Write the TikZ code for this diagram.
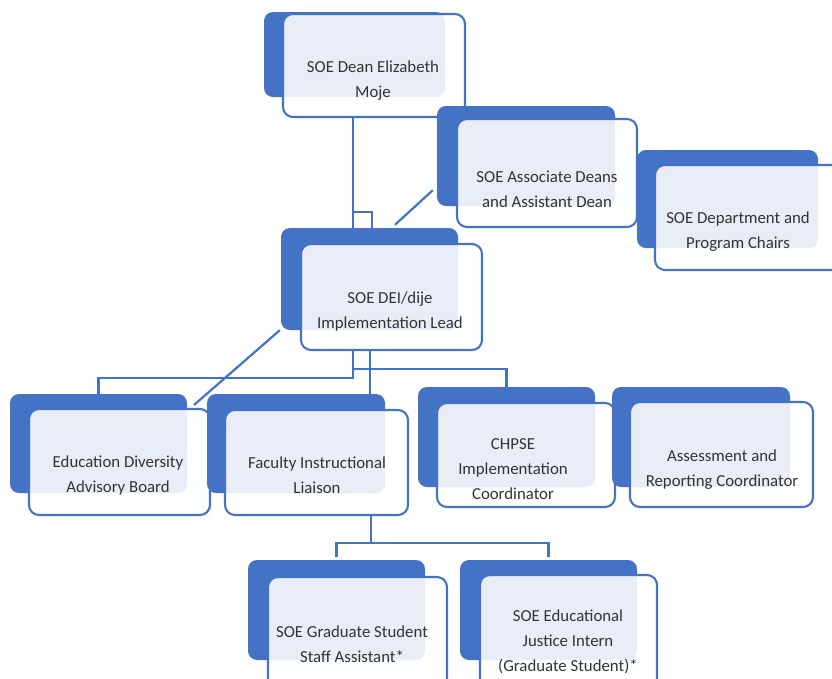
\documentclass[tikz,border=0pt]{standalone}
\usepackage{fontspec}
\setmainfont{Carlito}
\usetikzlibrary{fit,calc}
\definecolor{oblue}{HTML}{4472C4}
\definecolor{txtgray}{HTML}{333333}
\pgfdeclarelayer{bglines}
\pgfdeclarelayer{canvas}
\pgfsetlayers{canvas,bglines,main}
\newcommand\orglabelfont{\fontsize{16.8}{25}\selectfont}
\newcommand\orgunit[9]{%
  \node[backbox, fit={(#2,#3)(#4,#5)}] (#1B) {};
  \node[frontbox, fit={(#6,#7)(#8,#9)}] (#1) {};}
\begin{document}
\begin{tikzpicture}[x=1pt,y=-1pt,
  backbox/.style={fill=oblue, rounded corners=9pt, inner sep=0pt, draw=none},
  frontbox/.style={draw=oblue, line width=2.1pt, fill=white, fill opacity=0.88, rounded corners=10pt, inner sep=0pt},
  lbl/.style={text=txtgray, align=center, font=\orglabelfont, inner sep=0pt},
  conn/.style={draw=oblue, line width=2.2pt}]
\path[use as bounding box] (0,0) rectangle (832,678);
\clip (0,0) rectangle (832,678);
\begin{pgfonlayer}{canvas}
  \fill[white] (0,0) rectangle (832,678);
\end{pgfonlayer}
\orgunit{dean}{264}{12}{445}{97}{283}{14}{465}{117}
\orgunit{assoc}{437}{106}{615}{206}{457}{119}{637}{227}
\orgunit{dept}{637}{150}{818}{248}{655}{165}{845}{270}
\orgunit{lead}{281}{228}{458}{330}{301}{244}{482}{350}
\orgunit{edu}{10}{394}{187}{493}{29}{409}{210}{515}
\orgunit{fac}{207}{394}{385}{493}{225}{410}{408}{515}
\orgunit{chpse}{418}{387}{595}{487}{437}{403}{615}{507}
\orgunit{assess}{612}{387}{790}{487}{630}{402}{813}{507}
\orgunit{grad}{248}{560}{425}{660}{268}{577}{447}{690}
\orgunit{intern}{460}{560}{637}{660}{480}{575}{657}{690}

\node[lbl] (deanT) at (373,80.5) {SOE Dean Elizabeth\\Moje};
\node[lbl] (assocT) at (547,189) {SOE Associate Deans\\and Assistant Dean};
\node[lbl] (deptT) at (738,231.5) {SOE Department and\\Program Chairs};
\node[lbl] (leadT) at (390,311.5) {SOE DEI/dije\\Implementation Lead};
\node[lbl] (eduT) at (118,475.5) {Education Diversity\\Advisory Board};
\node[lbl] (facT) at (317,475.5) {Faculty Instructional\\Liaison};
\node[lbl] (chpseT) at (513,469.5) {CHPSE\\Implementation\\Coordinator};
\node[lbl] (assessT) at (722,470) {Assessment and\\Reporting Coordinator};
\node[lbl] (gradT) at (352,644) {SOE Graduate Student\\Staff Assistant*};
\node[lbl] (internT) at (568,642) {SOE Educational\\Justice Intern\\(Graduate Student)*};

\begin{pgfonlayer}{bglines}
  % Dean to Lead
  \draw[conn] ($(dean.south)+(-21,0)$) -- ($(leadB.north)+(-16.5,0)$);
  \draw[conn] ($(leadB.north)+(-16.5,-16)$) -| ($(leadB.north)+(2.5,0)$);
  % Associate to Lead
  \draw[conn] ($(assocB.south west)+(-4,-16)$) -- ($(leadB.north)+(25.5,-3)$);
  % Lead to bottom row
  \draw[conn] ($(lead.south)+(-38.5,0)$) -- ++(0,27) -| (eduB.north);
  \draw[conn] ($(lead.south)+(-38.5,18)$) -| (chpseB.north);
  \draw[conn] ($(lead.south)+(-21.5,0)$) -- ($(facB.north)+(74,0)$);
  \draw[conn] ($(leadB.south west)+(-1,0)$) -- ($(edu.north east)+(-17,-3)$);
  % Faculty to graduate positions
  \draw[conn] ($(fac.south)+(54.5,0)$) -- ++(0,28);
  \draw[conn] ($(gradB.north)+(0,-3)$) -- ++(0,-14) -| ($(internB.north)+(0,-3)$);
\end{pgfonlayer}
\end{tikzpicture}
\end{document}
